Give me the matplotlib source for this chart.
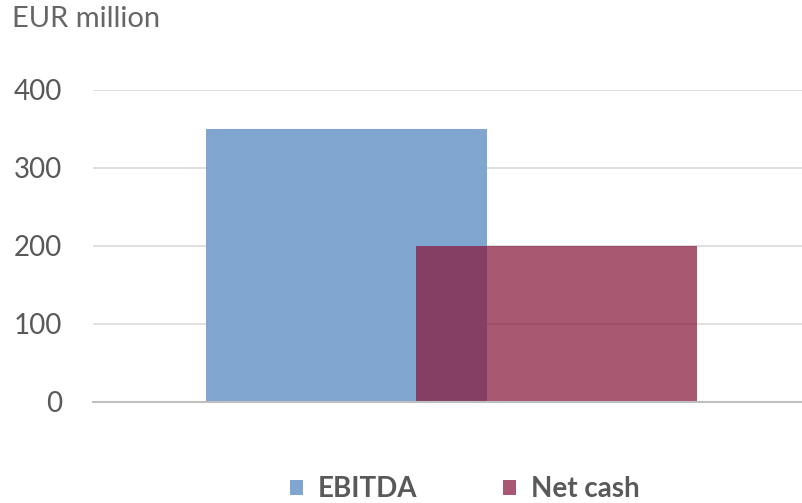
import numpy as np
import matplotlib.pyplot as plt
from matplotlib.patches import Patch

# Datos
series = ["EBITDA", "Net cash"]
values = [350, 200]
colors = ["#80a6d0", "#87183a"]
alphas = [1.0, 0.72]
positions = [0, 0.747]
yticks = [0, 100, 200, 300, 400]

plt.rcParams['font.family'] = ['Lato', 'DejaVu Sans']

fig = plt.figure(figsize=(8.02, 5.03), dpi=100)
ax = fig.add_axes([93/802, 101/503, 709/802, 312/503])

for pos, val, col, a in zip(positions, values, colors, alphas):
    ax.bar(pos, val, width=1.0, color=col, alpha=a, zorder=3)

ax.set_xlim(-0.902, 1.621)
ax.set_ylim(0, 400)
ax.set_yticks(yticks)
ax.set_xticks([])
ax.yaxis.grid(True, color="#d9d9d9", linewidth=1.2, zorder=0)
ax.tick_params(axis='y', length=0, pad=22, labelsize=20, labelcolor="#595959")
for s in ["top", "right", "left"]:
    ax.spines[s].set_visible(False)
ax.spines["bottom"].set_color("#bfbfbf")
ax.spines["bottom"].set_linewidth(1.5)
ax.spines["bottom"].set_zorder(4)

fig.text(12/802, 1 - 19/503, "EUR million", fontsize=21, color="#666666", va="center", ha="left")

handles = [Patch(facecolor=c, alpha=a, edgecolor="none") for c, a in zip(colors, alphas)]
leg = fig.legend(handles, series, loc="center", bbox_to_anchor=(465/802, 1 - 489/503), ncol=2,
                 frameon=False, fontsize=20, handlelength=0.45, handleheight=0.45,
                 columnspacing=3.1, handletextpad=0.55)
for t in leg.get_texts():
    t.set_color("#595959")
    t.set_fontweight("bold")

fig.savefig("out.png", dpi=100)
